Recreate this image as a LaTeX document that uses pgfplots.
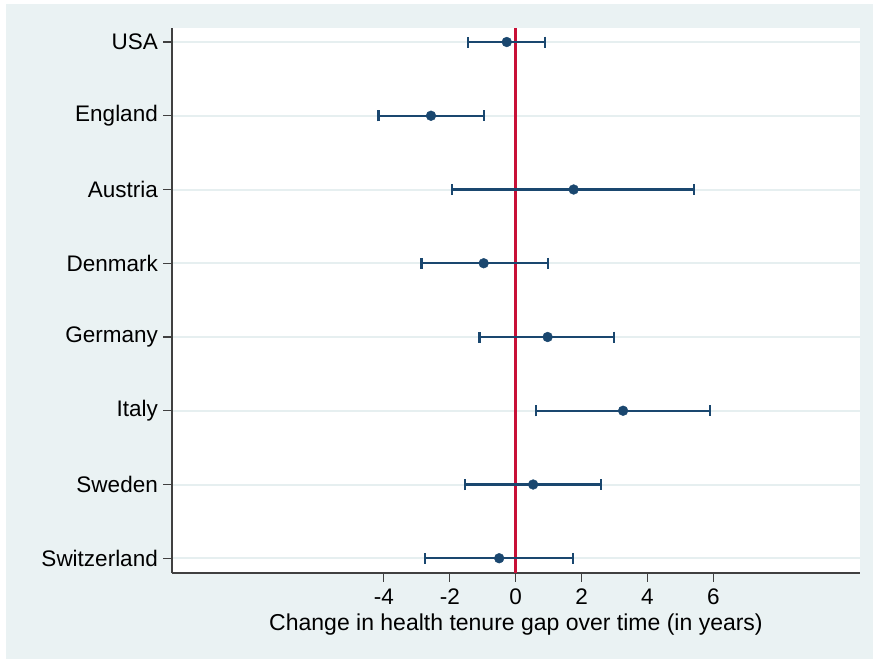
\documentclass[border=0pt]{standalone}
\usepackage{fontspec}
\setmainfont{Liberation Sans}
\usepackage{pgfplots}
\usepackage{pgfplotstable}
\pgfplotsset{compat=1.18}
\definecolor{bgc}{HTML}{EAF2F3}
\definecolor{gridc}{HTML}{E6EFF0}
\definecolor{navy}{HTML}{1A476F}
\definecolor{cran}{RGB}{200,16,55}
\pgfplotstableread{
y x ep em
8 -0.27 1.17 1.17
7 -2.57 1.60 1.59
6 1.76 3.66 3.69
5 -0.97 1.94 1.89
4 0.97 2.02 2.07
3 3.26 2.63 2.64
2 0.53 2.06 2.07
1 -0.50 2.25 2.26
}\coef
\begin{document}
\fontsize{22.5bp}{26bp}\selectfont
\begin{tikzpicture}
\path[use as bounding box, fill=white] (-172bp,-86bp) rectangle (701bp,573bp);
\fill[bgc] (-166bp,-86bp) rectangle (701bp,569bp);
\fill[white] (0,0) rectangle (688bp,545bp);
\begin{axis}[at={(0,0)}, anchor=south west, scale only axis,
  width=688bp, height=545bp,
  xmin=-10.43, xmax=10.45, ymin=0.80, ymax=8.19,
  axis x line*=bottom, axis y line*=left,
  axis line style={black!75, line width=1.2bp},
  tick style={black!75, line width=1.1bp},
  tick align=outside, major tick length=8.5bp,
  xtick={-4,-2,0,2,4,6}, xticklabels={-4,-2,0,2,4,6},
  ytick={1,2,3,4,5,6,7,8},
  yticklabels={Switzerland,Sweden,Italy,Germany,Denmark,Austria,England,USA},
  ymajorgrids, major grid style={gridc, line width=2bp},
  ticklabel style={font=\fontsize{22.5bp}{26bp}\selectfont},
  yticklabel style={xshift=2bp},
  xlabel={Change in health tenure gap over time (in years)},
  xlabel style={font=\fontsize{23bp}{26bp}\selectfont, yshift=6bp},
  clip=false,
]
\addplot[cran, line width=2.4bp] coordinates {(0,0.80) (0,8.19)};
\addplot[only marks, mark=*, mark size=4.9bp, navy,
  error bars/.cd, x dir=both, x explicit,
  error bar style={line width=2.4bp, navy},
  error mark options={line width=2.2bp, mark size=5.5bp, navy, rotate=90}]
  table[x=x, y=y, x error plus=ep, x error minus=em] {\coef};
\end{axis}
\end{tikzpicture}
\end{document}
